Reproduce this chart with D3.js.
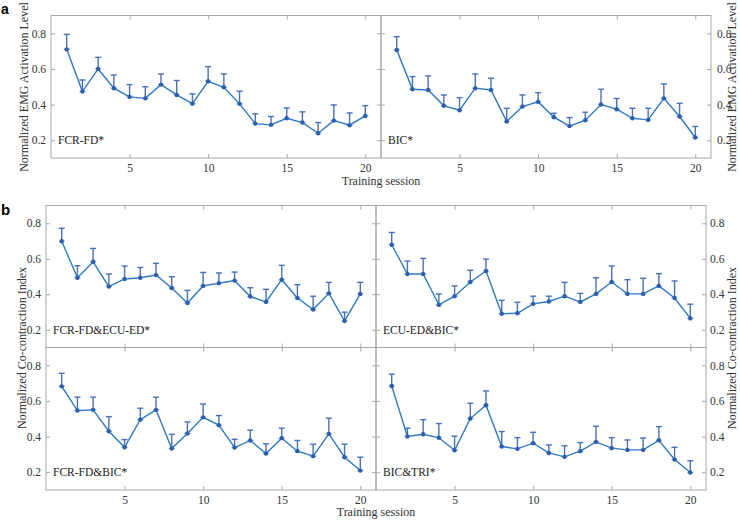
<!DOCTYPE html>
<html>
<head>
<meta charset="utf-8">
<script src="https://cdn.jsdelivr.net/npm/d3@7"></script>
<style>
  html, body { margin: 0; padding: 0; background: #fff; }
  svg { display: block; }
  .serif { font-family: "Liberation Serif", "DejaVu Serif", "Times New Roman", serif; }
  .tick text { font-family: "Liberation Serif", "DejaVu Serif", "Times New Roman", serif; }
</style>
</head>
<body>
<svg id="chart" width="740" height="521"></svg>
<script>
// ---------- DATA ----------
const sessions = [1,2,3,4,5,6,7,8,9,10,11,12,13,14,15,16,17,18,19,20];
const xTicks = [5, 10, 15, 20];
const yTicks = [0.2, 0.4, 0.6, 0.8];

const fcrFdMean = [0.710,0.473,0.600,0.492,0.443,0.435,0.512,0.454,0.405,0.531,0.497,0.404,0.293,0.286,0.323,0.299,0.239,0.310,0.284,0.336];
const fcrFdErr  = [0.084,0.065,0.065,0.074,0.069,0.065,0.060,0.081,0.055,0.082,0.075,0.071,0.055,0.047,0.058,0.060,0.060,0.088,0.069,0.058];

const bicMean = [0.707,0.486,0.482,0.393,0.368,0.492,0.482,0.305,0.389,0.415,0.329,0.279,0.312,0.400,0.374,0.323,0.314,0.435,0.333,0.215];
const bicErr  = [0.074,0.071,0.079,0.061,0.071,0.080,0.066,0.074,0.065,0.052,0.022,0.048,0.045,0.086,0.060,0.056,0.065,0.081,0.074,0.062];

const fcrEcuMean = [0.699,0.493,0.583,0.443,0.486,0.493,0.508,0.435,0.351,0.447,0.462,0.477,0.387,0.357,0.482,0.379,0.314,0.405,0.249,0.402];
const fcrEcuErr  = [0.073,0.068,0.075,0.071,0.073,0.058,0.066,0.064,0.071,0.076,0.058,0.048,0.050,0.071,0.081,0.075,0.075,0.062,0.050,0.065];

const ecuBicMean = [0.679,0.514,0.514,0.340,0.389,0.469,0.531,0.290,0.293,0.346,0.359,0.389,0.357,0.402,0.469,0.402,0.402,0.447,0.379,0.264];
const ecuBicErr  = [0.069,0.073,0.088,0.062,0.058,0.066,0.067,0.076,0.062,0.043,0.030,0.078,0.048,0.091,0.090,0.080,0.088,0.069,0.096,0.080];

const fcrBicMean = [0.682,0.546,0.550,0.430,0.340,0.495,0.550,0.333,0.417,0.508,0.464,0.338,0.378,0.305,0.391,0.318,0.290,0.415,0.284,0.209];
const fcrBicErr  = [0.073,0.075,0.071,0.082,0.043,0.064,0.071,0.080,0.065,0.075,0.054,0.047,0.058,0.054,0.056,0.060,0.067,0.088,0.073,0.075];

const bicTriMean = [0.684,0.400,0.413,0.393,0.323,0.501,0.576,0.344,0.331,0.363,0.308,0.286,0.318,0.370,0.335,0.325,0.325,0.379,0.271,0.198];
const bicTriErr  = [0.066,0.047,0.082,0.080,0.079,0.086,0.080,0.084,0.063,0.061,0.045,0.062,0.048,0.088,0.059,0.056,0.067,0.077,0.069,0.066];

const panelLabels = ["FCR-FD*", "BIC*", "FCR-FD&ECU-ED*", "ECU-ED&BIC*", "FCR-FD&BIC*", "BIC&TRI*"];
const yLabelA = "Normalized EMG Activation Level";
const yLabelB = "Normalized Co-contraction Index";
const xLabel = "Training session";

// ---------- LAYOUT ----------
const panels = [
  {mean: fcrFdMean,  err: fcrFdErr,  label: panelLabels[0], x0: 51,  x1: 381, y0: 15.5,  y1: 158, left: true,  right: false, bottom: true},
  {mean: bicMean,    err: bicErr,    label: panelLabels[1], x0: 381, x1: 711, y0: 15.5,  y1: 158, left: false, right: true,  bottom: true},
  {mean: fcrEcuMean, err: fcrEcuErr, label: panelLabels[2], x0: 46,  x1: 376, y0: 205.5, y1: 347.5, left: true,  right: false, bottom: false},
  {mean: ecuBicMean, err: ecuBicErr, label: panelLabels[3], x0: 376, x1: 706, y0: 205.5, y1: 347.5, left: false, right: true,  bottom: false},
  {mean: fcrBicMean, err: fcrBicErr, label: panelLabels[4], x0: 46,  x1: 376, y0: 347.5, y1: 490, left: true,  right: false, bottom: true},
  {mean: bicTriMean, err: bicTriErr, label: panelLabels[5], x0: 376, x1: 706, y0: 347.5, y1: 490, left: false, right: true,  bottom: true}
];

const svg = d3.select("#chart");
svg.append("rect").attr("width", 740).attr("height", 521).attr("fill", "#fff");

const frameColor = "#a8a8a8";
const lineColor = "#2f78c4";
const markColor = "#2b5fae";
const errColor = "#4a70b6";
const serif = "Liberation Serif, DejaVu Serif, Times New Roman, serif";

panels.forEach(p => {
  const x = d3.scaleLinear().domain([0, 21]).range([p.x0, p.x1]);
  const y = d3.scaleLinear().domain([0.1, 0.9]).range([p.y1, p.y0]);
  const g = svg.append("g");

  g.append("rect")
    .attr("x", p.x0).attr("y", p.y0)
    .attr("width", p.x1 - p.x0).attr("height", p.y1 - p.y0)
    .attr("fill", "none").attr("stroke", frameColor).attr("stroke-width", 1);

  const styleAxis = sel => {
    sel.attr("font-family", serif).attr("font-size", 11.5);
    sel.select(".domain").remove();
    sel.selectAll(".tick line").attr("stroke", frameColor);
    sel.selectAll(".tick text").attr("fill", "#333");
  };

  g.append("g").attr("transform", `translate(${p.x0},0)`)
    .call(d3.axisLeft(y).tickValues(yTicks).tickSizeInner(-4).tickSizeOuter(0).tickPadding(5)
      .tickFormat(p.left ? d3.format(".1f") : () => ""))
    .call(styleAxis);
  g.append("g").attr("transform", `translate(${p.x1},0)`)
    .call(d3.axisRight(y).tickValues(yTicks).tickSizeInner(-4).tickSizeOuter(0).tickPadding(p.x1 > 708 ? 6 : 4)
      .tickFormat(p.right ? d3.format(".1f") : () => ""))
    .call(styleAxis);
  g.append("g").attr("transform", `translate(0,${p.y1})`)
    .call(d3.axisBottom(x).tickValues(xTicks).tickSizeInner(-4).tickSizeOuter(0).tickPadding(6)
      .tickFormat(p.bottom ? d3.format("d") : () => ""))
    .call(styleAxis);
  g.append("g").attr("transform", `translate(0,${p.y0})`)
    .call(d3.axisTop(x).tickValues(xTicks).tickSizeInner(-4).tickSizeOuter(0).tickFormat(() => ""))
    .call(styleAxis);

  const capW = 3;
  sessions.forEach((s, i) => {
    const cx = x(s), cy = y(p.mean[i]), ty = y(p.mean[i] + p.err[i]);
    g.append("line").attr("x1", cx).attr("x2", cx).attr("y1", cy).attr("y2", ty)
      .attr("stroke", errColor).attr("stroke-width", 1.4);
    g.append("line").attr("x1", cx - capW).attr("x2", cx + capW).attr("y1", ty).attr("y2", ty)
      .attr("stroke", errColor).attr("stroke-width", 1.4);
  });

  const line = d3.line().x((d, i) => x(sessions[i])).y(d => y(d));
  g.append("path").datum(p.mean).attr("d", line)
    .attr("fill", "none").attr("stroke", lineColor).attr("stroke-width", 1.4);

  sessions.forEach((s, i) => {
    const cx = x(s), cy = y(p.mean[i]);
    g.append("line").attr("x1", cx - 3).attr("x2", cx + 3).attr("y1", cy).attr("y2", cy)
      .attr("stroke", "#7a9bd2").attr("stroke-width", 1.2);
    g.append("circle").attr("cx", cx).attr("cy", cy).attr("r", 2.2).attr("fill", markColor);
  });

  g.append("text").attr("class", "serif").attr("x", p.x0 + 7).attr("y", y(0.2) + 4)
    .attr("font-family", serif).attr("font-size", 11.5).attr("fill", "#222")
    .text(p.label);
});

const txt = (x, y, s, rot, size) => svg.append("text").attr("class", "serif")
  .attr("transform", `translate(${x},${y}) rotate(${rot})`)
  .attr("text-anchor", "middle")
  .attr("font-family", serif).attr("font-size", size).attr("fill", "#333").text(s);
txt(28, 87, yLabelA, -90, 12);
txt(736, 87, yLabelA, -90, 12);
txt(26, 348, yLabelB, -90, 12);
txt(736, 348, yLabelB, -90, 12);
txt(381, 185, xLabel, 0, 12);
txt(376, 516, xLabel, 0, 12);

svg.append("text").attr("x", 1).attr("y", 14).text("a")
  .attr("font-family", "Liberation Sans, Arial, sans-serif").attr("font-weight", "bold").attr("font-size", 14);
svg.append("text").attr("x", 1).attr("y", 215).text("b")
  .attr("font-family", "Liberation Sans, Arial, sans-serif").attr("font-weight", "bold").attr("font-size", 15);
</script>
</body>
</html>
